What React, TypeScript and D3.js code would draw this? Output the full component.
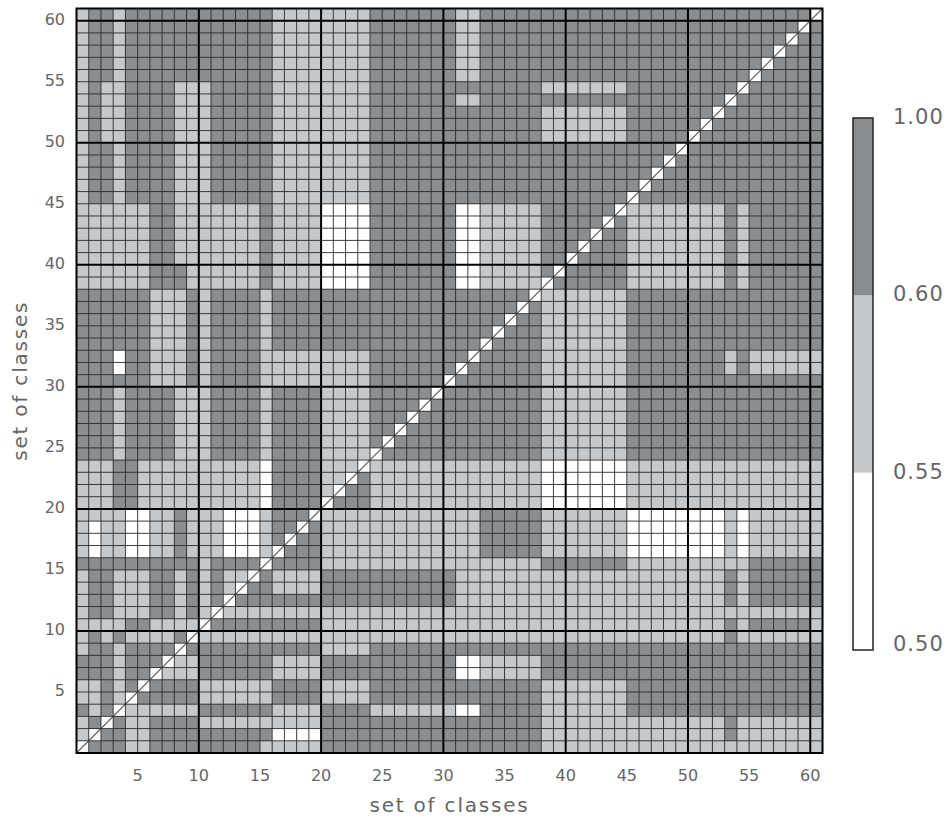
import React from 'react';
import * as d3 from 'd3';

// Class codes per cell: 0 = below 0.55 (white), 1 = 0.55-0.60, 2 = 0.60-1.00
// Rows listed from class 61 (top) down to class 1 (bottom); columns 1..61 left to right.
const cellRows: string[] = [
  "1221222222 2222221111 1111222222 2112222222 2222222222 2222222222 0",
  "1221222222 2222221111 1111222222 2112222222 2222222222 2222222220 2",
  "1221222222 2222221111 1111222222 2112222222 2222222222 2222222202 2",
  "1221222222 2222221111 1111222222 2112222222 2222222222 2222222022 2",
  "1221222222 2222221111 1111222222 2112222222 2222222222 2222220222 2",
  "1221222222 2222221111 1111222222 2112222222 2222222222 2222202222 2",
  "1211222211 1222221111 1111222222 2222222211 1111122222 2222022222 2",
  "1211222211 1222221111 1111222222 2112222222 2222222222 2220222222 2",
  "1211222211 1222221111 1111222222 2222222211 1111122222 2202222222 2",
  "1211222211 1222221111 1111222222 2222222211 1111122222 2022222222 2",
  "1211222211 1222221111 1111222222 2222222211 1111122222 0222222222 2",
  "1221222211 1222221111 1111222222 2222222222 2222222220 2222222222 2",
  "1221222211 1222221111 1111222222 2222222222 2222222202 2222222222 2",
  "1221222211 1222221111 1111222222 2222222222 2222222022 2222222222 2",
  "1221222211 1222221111 1111222222 2222222222 2222220222 2222222222 2",
  "1221222211 1222221111 1111222222 2222222222 2222202222 2222222222 2",
  "1111112211 1111121111 0000222222 2001111122 2222011111 1112122222 2",
  "1111112211 1111121111 0000222222 2001111122 2220211111 1112122222 2",
  "1111112211 1111121111 0000222222 2001111122 2202211111 1112122222 2",
  "1111112211 1111121111 0000222222 2001111122 2022211111 1112122222 2",
  "1111112211 1111121111 0000222222 2001111122 0222211111 1112122222 2",
  "1111112221 1111121111 0000222222 2001111120 2222211111 1112122222 2",
  "1111112221 1111121111 0000222222 2001111102 2222211111 1112122222 2",
  "2222221112 1222212222 2222222222 2222222011 1111122222 2222222222 2",
  "2222221112 1222212222 2222222222 2222220211 1111122222 2222222222 2",
  "2222221112 1222212222 2222222222 2222202211 1111122222 2222222222 2",
  "2222221112 1222212222 2222222222 2222022211 1111122222 2222222222 2",
  "2222221112 1222212222 2222222222 2220222211 1111122222 2222222222 2",
  "2220221112 1222211111 1111222222 2202222211 1111122222 2221211111 1",
  "2220221112 1222211111 1111222222 2022222211 1111122222 2221211111 1",
  "2222221112 1222211111 1111222222 0222222211 1111122222 2222222222 2",
  "2221222211 1222212222 1111222220 2222222211 1111122222 2222222222 2",
  "2221222211 1222212222 1111222202 2222222211 1111122222 2222222222 2",
  "2221222211 1222212222 1111222022 2222222211 1111122222 2222222222 2",
  "2221222211 1222212222 1111220222 2222222211 1111122222 2222222222 2",
  "2221222211 1222212222 1111202222 2222222211 1111122222 2222222222 2",
  "2221222211 1222212222 1111022222 2222222211 1111122222 2222222222 2",
  "1112211111 1111102222 1110111111 1111111100 0000011111 1111111111 1",
  "1112211111 1111102222 1102111111 1111111100 0000011111 1111111111 1",
  "1112211111 1111102222 1022111111 1111111100 0000011111 1111111111 1",
  "1112211111 1111102222 0222111111 1111111100 0000011111 1111111111 1",
  "1111001121 1100012220 1111111111 1112222211 1111100000 0001011111 1",
  "1011001121 1100012202 1111111111 1112222211 1111100000 0001011111 1",
  "1011001121 1100012022 1111111111 1112222211 1111100000 0001011111 1",
  "1011001121 1100010222 1111111111 1112222211 1111100000 0001011111 1",
  "2222222222 1222202222 1111111111 1111111122 2222211111 1111122222 2",
  "1221112212 1211021111 2222222222 2111111111 1111111111 1112122222 2",
  "1221112212 1210221111 2222222222 2111111111 1111111111 1112122222 2",
  "1221112212 1202222222 2222222222 2111111111 1111111111 1112122222 2",
  "1221112212 1011111111 1111111111 1111111111 1111111111 1111111111 1",
  "1111221111 0222222222 1111111111 1111111111 1111111111 1112122222 1",
  "1212111120 1111111111 1111111111 1111111111 1111111111 1112111111 1",
  "1221222202 2222222222 1111222222 2222222222 2222222222 2222222222 2",
  "2221222011 2222221111 2222222222 2001111122 2222222222 2222222222 2",
  "2221220111 2222221111 2222222222 2001111122 2222222222 2222222222 2",
  "1121202222 1111112222 1111222222 2222222211 1111122222 2222222222 2",
  "1121022222 1111112222 1111222222 2222222211 1111122222 2222222222 2",
  "2120111111 2222221111 2222111111 1002222211 1111122222 2222222222 2",
  "1202112222 1111111111 2222222222 2222222211 1111111111 1112111111 1",
  "1022112222 2222220000 2222222222 2222222211 1111111111 1112111111 1",
  "0222112222 2222211111 2222222222 2222222211 1111111111 1111111111 1",
];

const classValues = [0.52, 0.575, 0.8];
const colorBreaks = [0.5, 0.55, 0.6, 1.0];
const colorBreakLabels = ['0.50', '0.55', '0.60', '1.00'];
const fillColors = ['#ffffff', '#c6c9cc', '#8b8e91'];
const axisTicks = [5, 10, 15, 20, 25, 30, 35, 40, 45, 50, 55, 60];
const majorGrid = [10, 20, 30, 40, 50, 60];
const nClasses = 61;
const axisTitle = 'set of classes';

const FONT = "'DejaVu Sans', 'Liberation Sans', sans-serif";
const TEXT = '#666666';

export default function App() {
  const W = 949;
  const H = 820;
  const x = d3.scaleLinear().domain([0, nClasses]).range([76.5, 822.5]);
  const y = d3.scaleLinear().domain([0, nClasses]).range([753, 8.5]);
  const color = d3
    .scaleThreshold<number, string>()
    .domain([colorBreaks[1], colorBreaks[2]])
    .range(fillColors);
  const cb = d3.scaleLinear().domain([0, colorBreaks.length - 1]).range([650, 118]);

  const cells: { c: number; r: number; v: number }[] = [];
  cellRows.forEach((line, i) => {
    const r = nClasses - i;
    line
      .replace(/ /g, '')
      .split('')
      .forEach((ch, j) => {
        cells.push({ c: j + 1, r, v: classValues[+ch] });
      });
  });

  const minor = d3.range(1, nClasses).filter((k) => !majorGrid.includes(k));

  return (
    <svg
      width={W}
      height={H}
      style={{ position: 'absolute', left: 0, top: 0, background: '#fff' }}
      fontFamily={FONT}
    >
      <g shapeRendering="crispEdges">
        {cells.map((d) => (
          <rect
            key={`${d.c}-${d.r}`}
            x={x(d.c - 1)}
            y={y(d.r)}
            width={x(d.c) - x(d.c - 1) + 0.5}
            height={y(d.r - 1) - y(d.r) + 0.5}
            fill={color(d.v)}
          />
        ))}
      </g>
      <line
        x1={x(0)}
        y1={y(0)}
        x2={x(nClasses)}
        y2={y(nClasses)}
        stroke="#6a6a6a"
        strokeWidth={1.3}
      />
      <g stroke="#2a2a2a" strokeWidth={1} strokeOpacity={0.9}>
        {minor.map((k) => (
          <g key={k}>
            <line x1={x(k)} x2={x(k)} y1={y(0)} y2={y(nClasses)} />
            <line x1={x(0)} x2={x(nClasses)} y1={y(k)} y2={y(k)} />
          </g>
        ))}
      </g>
      <g stroke="#000" strokeWidth={2}>
        {majorGrid.map((k) => (
          <g key={k}>
            <line x1={x(k)} x2={x(k)} y1={y(0)} y2={y(nClasses)} />
            <line x1={x(0)} x2={x(nClasses)} y1={y(k)} y2={y(k)} />
          </g>
        ))}
      </g>
      <rect
        x={x(0)}
        y={y(nClasses)}
        width={x(nClasses) - x(0)}
        height={y(0) - y(nClasses)}
        fill="none"
        stroke="#000"
        strokeWidth={2}
      />

      {axisTicks.map((t) => (
        <text
          key={`xt${t}`}
          x={x(t)}
          y={776}
          textAnchor="middle"
          dominantBaseline="middle"
          fontSize={16}
          fill={TEXT}
        >
          {t}
        </text>
      ))}
      {axisTicks.map((t) => (
        <text
          key={`yt${t}`}
          x={65}
          y={y(t)}
          textAnchor="end"
          dominantBaseline="middle"
          fontSize={16}
          fill={TEXT}
        >
          {t}
        </text>
      ))}
      <text
        x={(x(0) + x(nClasses)) / 2}
        y={806}
        textAnchor="middle"
        dominantBaseline="middle"
        fontSize={20}
        letterSpacing={1.8}
        fill={TEXT}
      >
        {axisTitle}
      </text>
      <text
        transform={`translate(21, ${(y(0) + y(nClasses)) / 2}) rotate(-90)`}
        textAnchor="middle"
        dominantBaseline="middle"
        fontSize={20}
        letterSpacing={1.8}
        fill={TEXT}
      >
        {axisTitle}
      </text>

      <g>
        {colorBreaks.slice(0, -1).map((b, i) => (
          <rect
            key={`cb${i}`}
            x={853}
            y={cb(i + 1)}
            width={20}
            height={cb(i) - cb(i + 1)}
            fill={color((b + colorBreaks[i + 1]) / 2)}
          />
        ))}
        <rect
          x={853}
          y={cb(colorBreaks.length - 1)}
          width={20}
          height={cb(0) - cb(colorBreaks.length - 1)}
          fill="none"
          stroke="#222"
          strokeWidth={1.5}
        />
        {colorBreakLabels.map((lab, i) => (
          <text
            key={`cbl${i}`}
            x={893}
            y={cb(i) + (i === 0 ? -5 : 0)}
            dominantBaseline="middle"
            fontSize={21}
            letterSpacing={1}
            fill={TEXT}
          >
            {lab}
          </text>
        ))}
      </g>
    </svg>
  );
}
